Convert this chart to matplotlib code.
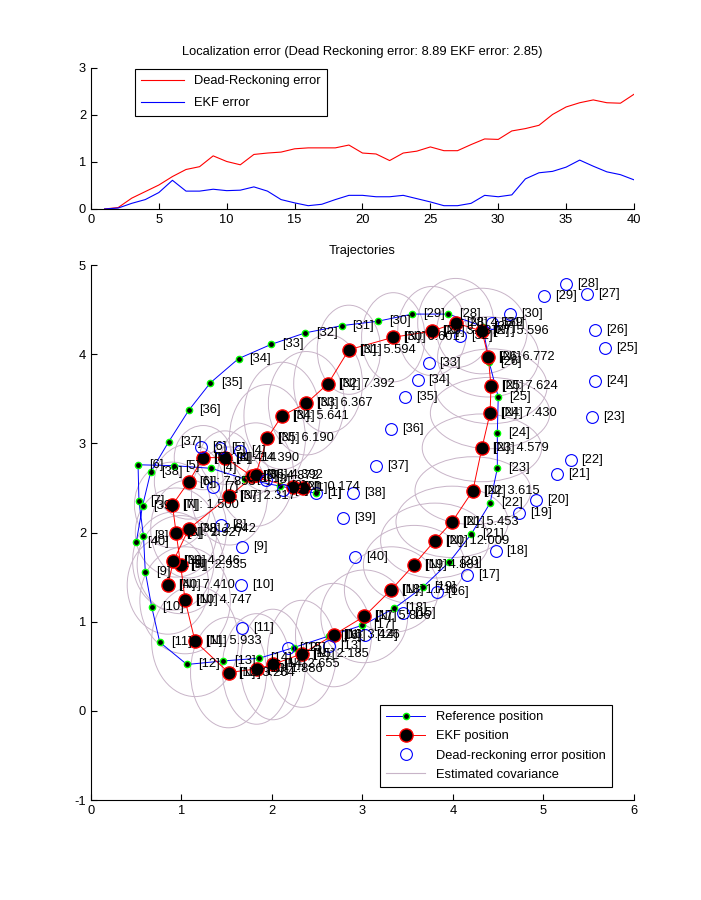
import numpy as np
import matplotlib.pyplot as plt
from matplotlib.patches import Ellipse
from matplotlib.lines import Line2D

plt.rcParams['font.family'] = ['Liberation Sans', 'DejaVu Sans']
plt.rcParams['font.size'] = 9.3
plt.rcParams['axes.unicode_minus'] = False

# localization error per step
steps = np.arange(1, 41)
dr_err = [0.0, 0.03, 0.23, 0.37, 0.51, 0.69, 0.84, 0.9, 1.13, 1.01,
          0.94, 1.16, 1.19, 1.21, 1.28, 1.3, 1.3, 1.3, 1.36, 1.19,
          1.17, 1.03, 1.19, 1.23, 1.32, 1.24, 1.24, 1.37, 1.49, 1.48,
          1.66, 1.71, 1.78, 2.01, 2.17, 2.26, 2.32, 2.26, 2.25, 2.44]
ekf_err = [0.0, 0.02, 0.12, 0.2, 0.35, 0.61, 0.38, 0.38, 0.42, 0.39,
           0.4, 0.47, 0.38, 0.2, 0.13, 0.07, 0.1, 0.2, 0.29, 0.29,
           0.26, 0.26, 0.29, 0.22, 0.15, 0.07, 0.07, 0.12, 0.29, 0.26,
           0.3, 0.64, 0.77, 0.8, 0.89, 1.04, 0.91, 0.79, 0.73, 0.62]

# trajectories
ref_x = [2.49, 2.09, 1.70, 1.33, 0.92, 0.52, 0.53, 0.58, 0.60, 0.67,
         0.76, 1.06, 1.46, 1.86, 2.24, 2.63, 3.00, 3.35, 3.67, 3.96,
         4.20, 4.41, 4.49, 4.49, 4.50, 4.40, 4.33, 3.95, 3.55, 3.17,
         2.77, 2.37, 1.99, 1.63, 1.32, 1.08, 0.86, 0.66, 0.57, 0.50]
ref_y = [2.44, 2.52, 2.60, 2.72, 2.75, 2.76, 2.35, 1.96, 1.56, 1.17,
         0.77, 0.52, 0.56, 0.59, 0.71, 0.84, 0.96, 1.15, 1.39, 1.67,
         1.98, 2.33, 2.72, 3.12, 3.52, 3.91, 4.31, 4.45, 4.45, 4.37,
         4.32, 4.24, 4.11, 3.95, 3.68, 3.37, 3.02, 2.68, 2.30, 1.89]

ekf_x = [2.34, 2.23, 1.78, 1.48, 1.24, 1.08, 0.90, 0.94, 0.99, 1.04,
         1.15, 1.52, 1.83, 2.01, 2.33, 2.68, 3.02, 3.32, 3.57, 3.80,
         3.99, 4.22, 4.32, 4.41, 4.42, 4.39, 4.32, 4.03, 3.77, 3.34,
         2.85, 2.62, 2.38, 2.11, 1.95, 1.82, 1.53, 1.08, 0.91, 0.85]
ekf_y = [2.50, 2.51, 2.63, 2.84, 2.84, 2.57, 2.31, 2.00, 1.64, 1.24,
         0.78, 0.43, 0.47, 0.52, 0.64, 0.85, 1.06, 1.36, 1.64, 1.91,
         2.12, 2.47, 2.95, 3.34, 3.64, 3.97, 4.26, 4.35, 4.26, 4.19,
         4.05, 3.67, 3.45, 3.31, 3.06, 2.65, 2.41, 2.04, 1.68, 1.41]
ekf_val = [None, '0.174', '4.872', '14.390', '11.414', '7.853', '1.500', '2.927', '2.935', '4.747',
           '5.933', '3.264', '1.886', '2.655', '2.185', '3.426', '5.806', '1.716', '4.881', '12.009',
           '5.453', '3.615', '4.579', '7.430', '7.624', '6.772', '5.596', '4.529', '3.837', '6.601',
           '5.594', '7.392', '6.367', '5.641', '6.190', '4.392', '2.317', '2.642', '4.246', '7.410']

dr_x = [2.49, 2.12, 1.93, 1.65, 1.43, 1.22, 1.35, 1.44, 1.67, 1.66,
        1.67, 2.18, 2.63, 3.03, 3.45, 3.82, 4.16, 4.47, 4.73, 4.92,
        5.15, 5.30, 5.54, 5.57, 5.68, 5.57, 5.48, 5.25, 5.01, 4.63,
        4.43, 4.08, 3.73, 3.61, 3.47, 3.32, 3.15, 2.90, 2.79, 2.92]
dr_y = [2.44, 2.48, 2.59, 2.91, 2.95, 2.96, 2.51, 2.09, 1.84, 1.41,
        0.93, 0.71, 0.73, 0.85, 1.10, 1.33, 1.52, 1.79, 2.22, 2.37,
        2.66, 2.81, 3.30, 3.70, 4.07, 4.27, 4.68, 4.79, 4.65, 4.45,
        4.35, 4.20, 3.90, 3.71, 3.52, 3.16, 2.75, 2.44, 2.16, 1.73]

# covariance ellipse semi-axes (x, y)
cov_a = [0.05, 0.12, 0.2, 0.28, 0.32, 0.38, 0.42, 0.45, 0.48, 0.5,
         0.48, 0.42, 0.38, 0.36, 0.38, 0.42, 0.48, 0.52, 0.56, 0.6,
         0.62, 0.64, 0.66, 0.66, 0.62, 0.56, 0.5, 0.42, 0.38, 0.35,
         0.35, 0.38, 0.42, 0.42, 0.42, 0.42, 0.42, 0.42, 0.45, 0.45]
cov_b = [0.05, 0.12, 0.22, 0.3, 0.36, 0.42, 0.48, 0.5, 0.55, 0.6,
         0.62, 0.62, 0.62, 0.62, 0.6, 0.58, 0.52, 0.48, 0.44, 0.42,
         0.4, 0.38, 0.38, 0.4, 0.42, 0.45, 0.48, 0.5, 0.5, 0.5,
         0.5, 0.55, 0.58, 0.6, 0.6, 0.58, 0.55, 0.55, 0.55, 0.55]

cov_color = '#c8b4c8'

fig = plt.figure(figsize=(7.01, 9.0), dpi=100)

# top: errors
ax1 = fig.add_axes([0.1298, 0.7678, 0.7746, 0.1567])
ax1.plot(steps, dr_err, 'r-', lw=0.8, label='Dead-Reckoning error')
ax1.plot(steps, ekf_err, 'b-', lw=0.8, label='EKF error')
ax1.set_xlim(0, 40)
ax1.set_ylim(0, 3)
ax1.set_xticks(range(0, 41, 5))
ax1.set_yticks([0, 1, 2, 3])
ax1.set_title('Localization error (Dead Reckoning error: 8.89 EKF error: 2.85)', fontsize=9.3, pad=9)
leg1 = ax1.legend(loc='upper left', bbox_to_anchor=(0.081, 0.993), borderaxespad=0,
                  fancybox=False, edgecolor='black', framealpha=1, handlelength=3.3,
                  labelspacing=0.75, borderpad=0.5, fontsize=9.3)
leg1.get_frame().set_linewidth(0.8)

# bottom: trajectories
ax2 = fig.add_axes([0.1298, 0.1111, 0.7746, 0.5944])
for i in range(len(ekf_x)):
    ax2.add_patch(Ellipse((ekf_x[i], ekf_y[i]), 2 * cov_a[i], 2 * cov_b[i],
                          fill=False, edgecolor=cov_color, lw=0.7, zorder=1))
ax2.plot(ref_x, ref_y, '-', color='blue', lw=0.7, marker='o', ms=4.5,
         mfc='black', mec='#00ff00', mew=1.0, zorder=3)
ax2.plot(ekf_x, ekf_y, '-', color='red', lw=0.7, marker='o', ms=9.5,
         mfc='black', mec='red', mew=1.0, zorder=4)
ax2.plot(dr_x, dr_y, 'o', ms=8.5, mfc='none', mec='blue', mew=0.8, zorder=5)

off = 0.12
for i in range(40):
    k = i + 1
    ax2.text(ref_x[i] + off, ref_y[i], f'[{k}]', va='center', ha='left', zorder=6)
    ax2.text(dr_x[i] + off, dr_y[i], f'[{k}]', va='center', ha='left', zorder=6)
    ax2.text(ekf_x[i] + off, ekf_y[i], f'[{k}]', va='center', ha='left', zorder=6)
    if ekf_val[i] is not None:
        ax2.text(ekf_x[i] + off, ekf_y[i], f'[N]: {ekf_val[i]}', va='center', ha='left', zorder=6)

ax2.set_xlim(0, 6)
ax2.set_ylim(-1, 5)
ax2.set_xticks(range(0, 7))
ax2.set_yticks(range(-1, 6))
ax2.set_title('Trajectories', fontsize=9.3, pad=8)

handles = [
    Line2D([], [], color='blue', lw=0.7, marker='o', ms=4.5, mfc='black', mec='#00ff00', mew=1.0),
    Line2D([], [], color='red', lw=0.7, marker='o', ms=9.5, mfc='black', mec='red', mew=1.0),
    Line2D([], [], ls='none', marker='o', ms=8.5, mfc='none', mec='blue', mew=0.8),
    Line2D([], [], color=cov_color, lw=0.8),
]
labels = ['Reference position', 'EKF position', 'Dead-reckoning error position', 'Estimated covariance']
leg2 = ax2.legend(handles, labels, loc='lower right', bbox_to_anchor=(0.959, 0.024), borderaxespad=0,
                  fancybox=False, edgecolor='black', framealpha=1, handlelength=3.0,
                  labelspacing=0.55, borderpad=0.5, fontsize=9.3, numpoints=1)
leg2.get_frame().set_linewidth(0.8)
leg2.set_zorder(10)

for ax in (ax1, ax2):
    ax.spines['top'].set_visible(False)
    ax.spines['right'].set_visible(False)
    ax.tick_params(direction='in', length=4, width=0.8, labelsize=9.3)

fig.savefig('out.png', dpi=100)
